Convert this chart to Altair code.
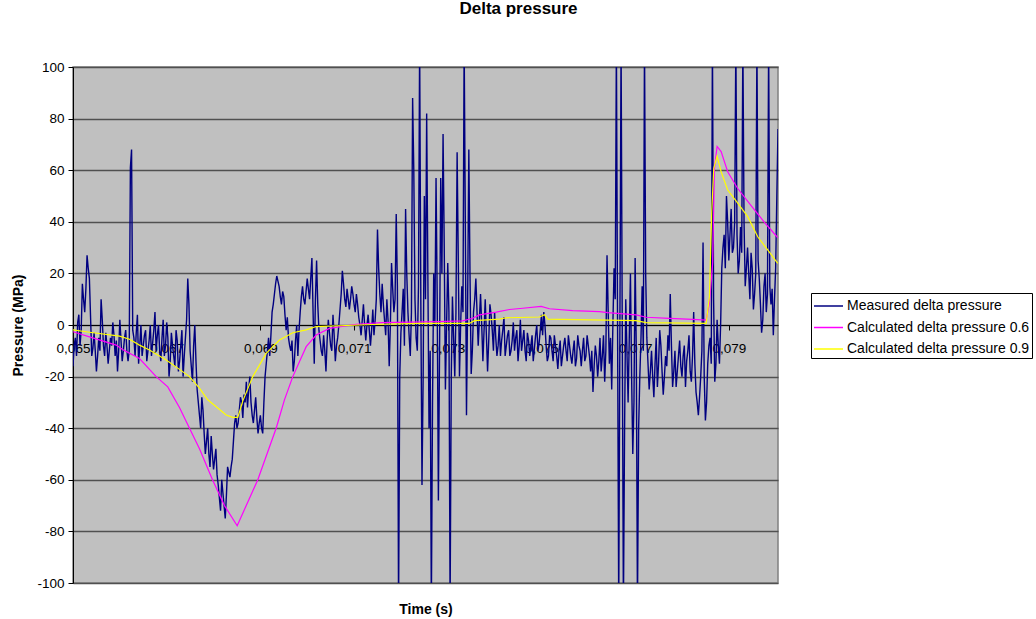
import altair as alt
import pandas as pd

FONT = "Liberation Sans"

# ---- measured delta pressure: samples every 0.00005 s from 0.065 s ----
T0 = 0.065
DT = 0.00005
measured_a = [
    -16, -5, 1, -8, 16, 5, 27, 18, -12, -3, -18, -5, 10, -8, -3, -15, -5, 1, -12, -18,
    2, -14, -5, -10, -10, 68, -5, -3, -15, 0, -8, -2, -10, 0, -7, 5, -4, -10, -5, -12,
    1, -20, -3, -12, -2, -18, -8, -20, -5, 18, -10, -22, 0, -25, -35, -28, -42, -45, -50, -43,
    -56, -48, -62, -72, -65, -75, -55, -59, -52, -38, -40, -33, -30, -27, -22, -25, -30, -38, -28, -42,
    -35, -42, -20, -10, -12, 5, 12, 19, 15, 8, 11, -2, -5, -10, -18, -6, -12, 5, 15, 8,
    18, 10, 26, -15, 25, -2, -10, -4, -18, 2, -8, 4, -14, -5, 6, 21, 10, 14, 6, 15,
    8, 12, 3, -4, 8, -6, 4, -8, 6, 2, 37, 12, 16, 2, 10, -16, 24, 5, 43, -110,
    -3, 14, 45, 5, -12, 88, 10, -10, 110, -62, 50, 82, -40, -110, 20, 57, -68, 57, 74, -25,
    24, -110, 11, -20, 67, -20, 15, 110, -35, 68, -19, 5, 18, -8, 12, -14, 10, -18, 8, -2,
    5, -12, 0, -6, 3, -8, -2, -10, 1, -5, -14, 2, -6, -10, -3, -12, -4, -9, 0, -7,
    4, 5, -8, -12, -5, -14, -8, -17, -6, -12, -5, -14, -8, -15, -6, -13, -8, -16, -5, -12,
    -8, -18, -26, -8, -20, -5, -12, -22, 27, -15, -25, 22, 110, -110, 110, -110, 10, -30, 20, -50,
    26, -110, -20, 15, 110, -5, -25, -10, -28, -5, -15, -8, -27, -12, -4, 12, -24, -10, -18, -6,
    -20, -8, -14, -4, -22, 5, -26, -35, -20, 32, -37, -15, -5, 110, -22, 2, -15, 22, 35, 50,
    25, 45, 30, 110, 20, 38, 110, 15, 30, 10, 22, 12, 110, 18, -3, 15, 5, 110, 8, -4,
    22, 76,
]
# in-between samples (half a step after each sample above)
measured_b = [
    -8, -12, 4, -2, 10, 14, 22, 3, -9, -10, -12, -10, 2, -12, -8, -10, -8, -4, -6, -10,
    -6, -10, -2, -14, 61, -2, -12, 4, -8, -12, -4, -14, -6, -12, -2, -10, 0, -14, 2, -8,
    -5, -14, -8, -16, -6, -14, -2, -12, 2, 8, -16, -8, -14, -30, -40, -33, -50, -40, -55, -50,
    -52, -58, -67, -60, -70, -66, -57, -55, -45, -35, -38, -28, -36, -30, -32, -20, -35, -33, -36, -38,
    -40, -30, -15, -5, -4, 8, 16, 17, 11, 13, 4, 3, -8, -6, -14, 0, -2, 11, 10, 13,
    14, 18, 5, 10, 8, -6, -12, -10, -6, -3, -10, -4, -8, 0, 12, 16, 7, 10, 10, 12,
    5, 8, 0, 2, 0, 0, -2, -2, -4, 10, 22, 5, 8, -4, 2, 0, 14, 10, 15, -20,
    5, -8, 20, -4, 5, 60, -5, 15, 10, -20, 10, 20, -10, -30, 0, 10, -10, 20, 30, 0,
    5, -20, -5, 5, 25, 0, 5, 40, 10, 20, -10, 10, 5, 2, 0, -2, -4, -6, 4, -10,
    -5, -8, -12, -2, -12, -4, -12, -6, -10, -2, -8, -10, -2, -14, -6, -8, -14, -4, -10, -2,
    -4, 0, -14, -4, -10, -4, -12, -10, -16, -8, -10, -4, -12, -10, -16, -4, -10, -10, -14, -4,
    -12, -10, -16, -12, -14, -18, -4, -10, 5, -5, 0, 10, 0, 0, 0, -40, -10, -5, -20, -30,
    -10, -40, -5, -10, 20, -15, -18, -20, -15, -24, -2, -18, -20, -16, -10, -8, -18, -24, -12, -16,
    -12, -24, -10, -18, -12, -15, -30, -28, -10, -20, -30, -8, -15, 10, -15, -8, 0, 30, 22, 40,
    35, 28, 40, 35, 25, 28, 40, 22, 20, 28, 6, 20, 25, 8, 2, 20, 12, 15, 14, 10,
    50,
]
measured_t = [round(T0 + i * DT, 6) for i in range(len(measured_a))] + \
             [round(T0 + (i + 0.5) * DT, 6) for i in range(len(measured_b))]
measured = measured_a + measured_b

# ---- calculated delta pressure 0.6 ----
calc06_t = [
    0.065, 0.065352, 0.065922, 0.066057, 0.066419, 0.066776, 0.067023, 0.067273, 0.067487, 0.0677,
    0.067978, 0.068234, 0.068505, 0.068945, 0.069337, 0.069514, 0.069692, 0.069978, 0.070191, 0.070475,
    0.071045, 0.071606, 0.072823, 0.07332, 0.073534, 0.073677, 0.074033, 0.074317, 0.074601, 0.074994,
    0.075171, 0.075668, 0.076238, 0.076415, 0.077021, 0.077235, 0.077732, 0.07823, 0.078516, 0.078586,
    0.078656, 0.078693, 0.07875, 0.078836, 0.078976, 0.07919, 0.079476, 0.07976, 0.08001, 0.08004,
]
calc06_v = [
    -2.6, -4.6, -7.8, -9.5, -13, -20, -24, -32, -40, -48,
    -60, -70, -77.8, -60, -40, -29, -20, -8.4, -3.9, -1.3,
    0.3, 0.9, 1.3, 1.6, 2.6, 3.9, 5.0, 6.0, 6.5, 7.2,
    6.3, 5.6, 5.2, 4.8, 3.9, 3.0, 2.6, 2.2, 1.9, 8.5,
    24.2, 60.7, 69.2, 67.2, 59.4, 52.9, 46.3, 39.8, 34.6, 33.9,
]

# ---- calculated delta pressure 0.9 ----
calc09_t = [
    0.065, 0.065352, 0.065993, 0.066206, 0.066419, 0.066633, 0.066989, 0.067273, 0.067487, 0.0677,
    0.067877, 0.06827, 0.068411, 0.068518, 0.068624, 0.068838, 0.069124, 0.069408, 0.069692, 0.069978,
    0.070191, 0.070688, 0.071399, 0.072396, 0.073463, 0.07357, 0.074104, 0.074247, 0.074957, 0.075064,
    0.075134, 0.077021, 0.077235, 0.078516, 0.078586, 0.078635, 0.078678, 0.07875, 0.078836, 0.078976,
    0.07919, 0.079404, 0.079617, 0.07983, 0.080044,
]
calc09_v = [
    -1.9, -2.8, -4.3, -5.5, -7.8, -9.7, -13.6, -17.2, -20, -24.5,
    -29, -34.9, -35.8, -35.8, -29.5, -20, -11, -5.8, -3, -1.9,
    -0.6, -0.3, 0.2, 0.6, 0.6, 1.7, 2.3, 2.8, 3.1, 4.0,
    2.3, 1.7, 0.9, 0.6, 11, 43.7, 60.7, 65.5, 59.4, 52.3,
    47.2, 42, 34.2, 29.1, 23.9,
]

series_names = ["Measured delta pressure", "Calculated delta pressure 0.6", "Calculated delta pressure 0.9"]
series_colors = ["#000080", "#FF00FF", "#FFFF00"]
x_ticks = [0.065, 0.067, 0.069, 0.071, 0.073, 0.075, 0.077, 0.079]
y_ticks = [-100, -80, -60, -40, -20, 0, 20, 40, 60, 80, 100]

df_m = pd.DataFrame({"t": measured_t, "v": measured, "series": series_names[0]}).sort_values("t")
df_p = pd.DataFrame({"t": calc06_t, "v": calc06_v, "series": series_names[1]})
df_y = pd.DataFrame({"t": calc09_t, "v": calc09_v, "series": series_names[2]})

W, H = 705, 516

x_enc = alt.X(
    "t:Q",
    scale=alt.Scale(domain=[0.065, 0.08005], nice=False, zero=False),
    axis=alt.Axis(
        values=x_ticks,
        labelExpr="replace(format(datum.value, '.3f'), '.', ',')",
        orient="bottom",
        offset=-258,
        domainColor="black",
        domainWidth=1,
        tickColor="black",
        tickSize=5,
        labelFont=FONT,
        labelFontSize=13.5,
        labelColor="black",
        labelPadding=11,
        labelFlush=False,
        labelOverlap=False,
        grid=False,
        title="Time (s)",
        titleFont=FONT,
        titleFontSize=14,
        titleFontWeight="bold",
        titleColor="black",
        titleX=352.5,
        titleY=284,
        titleAlign="center",
        titleBaseline="middle",
    ),
)
y_enc = alt.Y(
    "v:Q",
    scale=alt.Scale(domain=[-100, 100], nice=False),
    axis=alt.Axis(
        values=y_ticks,
        labelExpr="'' + datum.value",
        domainColor="black",
        domainWidth=1,
        tickColor="black",
        tickSize=5,
        labelFont=FONT,
        labelFontSize=13.5,
        labelColor="black",
        labelPadding=4,
        labelFlush=False,
        gridColor="#505050",
        gridWidth=1.5,
        title="Pressure (MPa)",
        titleFont=FONT,
        titleFontSize=14,
        titleFontWeight="bold",
        titleColor="black",
        titleAngle=270,
        titleX=-55,
        titleY=258,
        titleAlign="center",
        titleBaseline="middle",
    ),
)
color_enc = alt.Color(
    "series:N",
    scale=alt.Scale(domain=series_names, range=series_colors),
    legend=alt.Legend(
        orient="none",
        legendX=738,
        legendY=226,
        title=None,
        symbolType="M-1,0L1.9,0",
        symbolSize=400,
        symbolStrokeWidth=1.5,
        labelFont=FONT,
        labelFontSize=14,
        labelColor="black",
        labelOffset=12,
        labelLimit=400,
        strokeColor="black",
        fillColor="white",
        padding=2,
        rowPadding=3.5,
        direction="vertical",
    ),
)

m_line = alt.Chart(df_m).mark_line(strokeWidth=1.4, clip=True).encode(x=x_enc, y=y_enc, color=color_enc)
p_line = alt.Chart(df_p).mark_line(strokeWidth=1.2, clip=True).encode(x=x_enc, y=y_enc, color=color_enc)
y_line = alt.Chart(df_y).mark_line(strokeWidth=1.2, clip=True).encode(x=x_enc, y=y_enc, color=color_enc)

chart = (
    alt.layer(m_line, p_line, y_line)
    .properties(
        width=W,
        height=H,
        title=alt.TitleParams(
            "Delta pressure",
            font=FONT,
            fontSize=17,
            fontWeight="bold",
            color="black",
            anchor="middle",
            dx=93,
            offset=42,
        ),
        autosize=alt.AutoSizeParams(type="none"),
        padding={"left": 73, "top": 67, "right": 258, "bottom": 36},
        background="white",
    )
    .configure_view(fill="#C0C0C0", stroke="#808080", strokeWidth=1.5)
)

chart.save("out.html", embed_options={"renderer": "svg", "actions": False})
